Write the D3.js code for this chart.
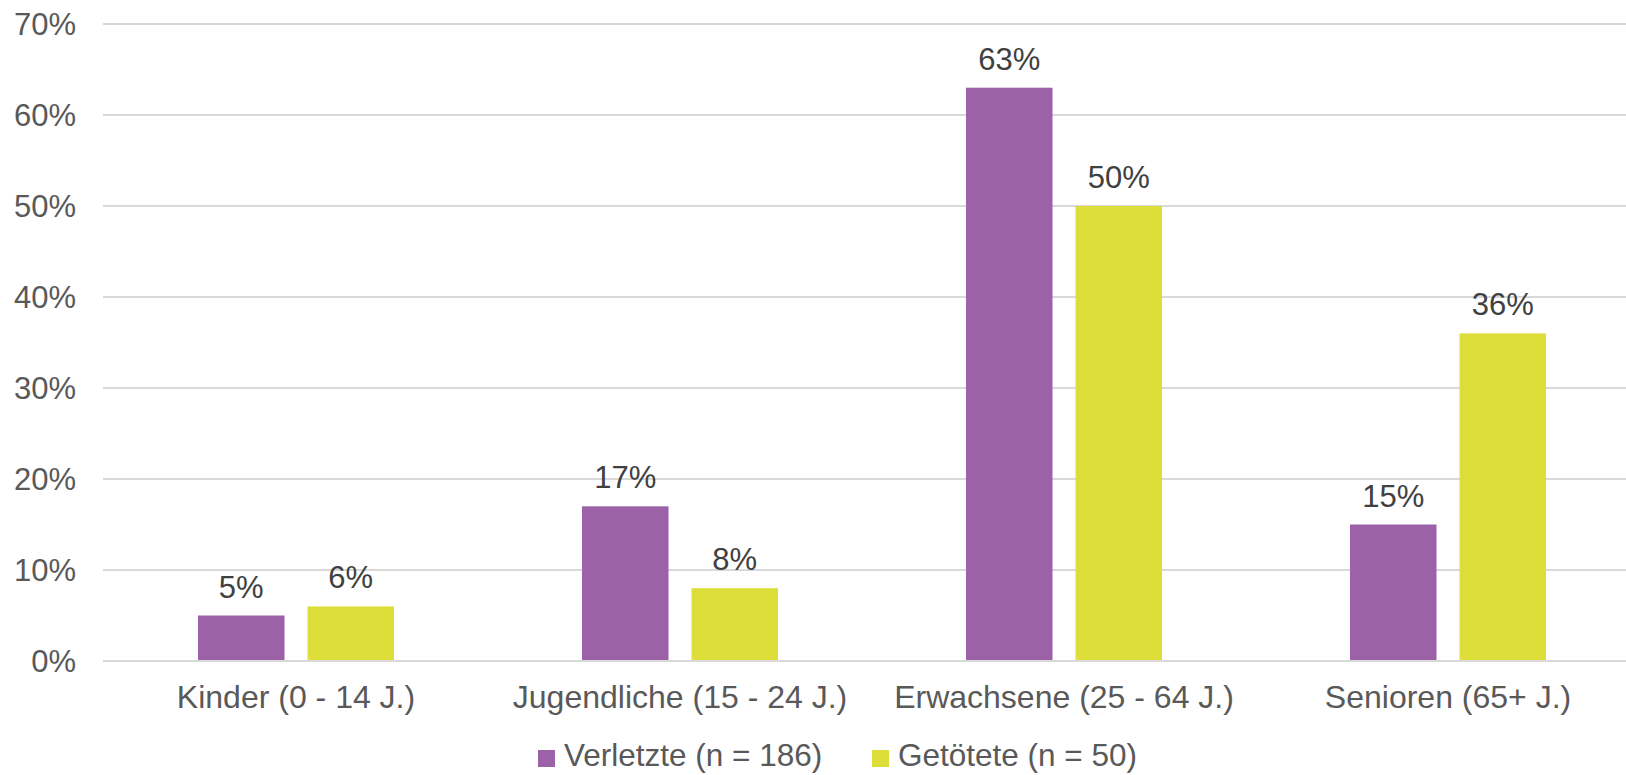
<!DOCTYPE html>
<html>
<head>
<meta charset="utf-8">
<script src="https://cdn.jsdelivr.net/npm/d3@7"></script>
<style>
  html, body { margin: 0; padding: 0; background: #fff; }
  svg { display: block; }
  text { font-family: "Liberation Sans", Arial, Helvetica, sans-serif; }
</style>
</head>
<body>
<svg id="chart" width="1626" height="775"></svg>
<script>
const categories = ["Kinder (0 - 14 J.)", "Jugendliche (15 - 24 J.)", "Erwachsene (25 - 64 J.)", "Senioren (65+ J.)"];
const seriesNames = ["Verletzte (n = 186)", "Getötete (n = 50)"];
const verletzte = [0.05, 0.17, 0.63, 0.15];
const getoetete = [0.06, 0.08, 0.50, 0.36];
const yTicks = [0, 0.1, 0.2, 0.3, 0.4, 0.5, 0.6, 0.7];
const colors = ["#9B62A7", "#DEDE3A"];

const seriesValues = [verletzte, getoetete];
const svg = d3.select("#chart");
const W = 1626;
const plotLeft = 104, plotRight = 1640, y0 = 661, yTop = 24;

const x0 = d3.scaleBand().domain(categories).range([plotLeft, plotRight]).paddingInner(0.4896).paddingOuter(0.2448);
const x1 = d3.scaleBand().domain(seriesNames).range([0, x0.bandwidth()]).paddingInner(0.21).paddingOuter(0);
const y = d3.scaleLinear().domain([0, 0.7]).range([y0, yTop]);
const color = d3.scaleOrdinal().domain(seriesNames).range(colors);

// gridlines
svg.append("g").selectAll("line").data(yTicks).join("line")
  .attr("x1", plotLeft - 1).attr("x2", W)
  .attr("y1", d => y(d)).attr("y2", d => y(d))
  .attr("stroke", "#D9D9D9").attr("stroke-width", 2);

// y axis labels
const yAxis = d3.axisLeft(y).tickValues(yTicks).tickFormat(d3.format(".0%")).tickSize(0).tickPadding(0);
const gy = svg.append("g").attr("transform", `translate(${76},0)`).call(yAxis);
gy.select(".domain").remove();
gy.selectAll("text").attr("font-size", 31).attr("fill", "#595959")
  .attr("font-family", "'Liberation Sans', Arial, sans-serif").attr("dy", "0.34em");

// bars
const data = categories.map((c, i) => ({ cat: c, vals: seriesNames.map((s, j) => ({ s, v: seriesValues[j][i] })) }));
const groups = svg.append("g").selectAll("g").data(data).join("g")
  .attr("transform", d => `translate(${x0(d.cat)},0)`);
groups.selectAll("rect").data(d => d.vals).join("rect")
  .attr("x", d => x1(d.s)).attr("width", x1.bandwidth())
  .attr("y", d => y(d.v)).attr("height", d => y(0) - y(d.v) - 1)
  .attr("fill", d => color(d.s));
groups.selectAll("text").data(d => d.vals).join("text")
  .attr("x", d => x1(d.s) + x1.bandwidth() / 2)
  .attr("y", d => y(d.v) - 18)
  .attr("text-anchor", "middle").attr("font-size", 31).attr("fill", "#404040")
  .text(d => d3.format(".0%")(d.v));

// x axis labels
const xAxis = d3.axisBottom(x0).tickSize(0).tickPadding(0);
const gx = svg.append("g").attr("transform", `translate(0,${y0})`).call(xAxis);
gx.select(".domain").remove();
gx.selectAll("text").attr("font-size", 32).attr("fill", "#595959")
  .attr("font-family", "'Liberation Sans', Arial, sans-serif").attr("dy", null).attr("y", 47);

// legend
const legendX = [538, 872];
const lg = svg.append("g").selectAll("g").data(seriesNames).join("g")
  .attr("transform", (d, i) => `translate(${legendX[i]},0)`);
lg.append("rect").attr("x", 0).attr("y", 750).attr("width", 17).attr("height", 17).attr("fill", d => color(d));
lg.append("text").attr("x", 26).attr("y", 766).attr("font-size", 31.5).attr("fill", "#595959").text(d => d);
</script>
</body>
</html>
